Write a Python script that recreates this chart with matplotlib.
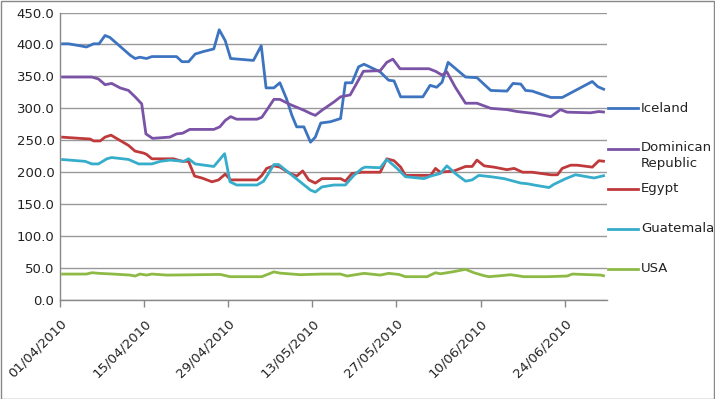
import matplotlib
matplotlib.use("Agg")
import matplotlib.pyplot as plt
from matplotlib.lines import Line2D
from matplotlib.patches import Rectangle
import pandas as pd

# ---- data (x = days after 01/04/2010) ----
start_date = "2010-04-01"
end_date = "2010-07-01"
tick_labels = ["01/04/2010", "15/04/2010", "29/04/2010", "13/05/2010",
               "27/05/2010", "10/06/2010", "24/06/2010"]
y_ticks = [0, 50, 100, 150, 200, 250, 300, 350, 400, 450]

iceland_day = [0.2, 1.4, 3.3, 4.4, 5.6, 6.5, 7.5, 8.3, 10, 11.7, 12.5, 13.3, 14.4, 15.3, 19.4, 20.3,
               21.4, 22.5, 23.9, 25.6, 26.5, 27.5, 28.4, 32.2, 33.5, 34.3, 35.6, 36.6, 37.7, 38.6,
               39.4, 40.6, 41.7, 42.5, 43.4, 45, 46.7, 47.5, 48.6, 49.7, 50.6, 51.3, 53.3, 54.7,
               55.6, 56.7, 60.4, 61.6, 62.7, 63.6, 64.6, 67.5, 69.4, 71.7, 74.4, 75.4, 76.7, 77.5,
               78.6, 81.7, 83.6, 88.6, 89.5, 90.7]
iceland_val = [401, 401, 398, 396, 401, 401, 414, 411, 397, 383, 378, 380, 378, 381, 381, 373,
               373, 385, 389, 393, 423, 406, 378, 375, 398, 332, 332, 340, 315, 289,
               271, 271, 247, 255, 277, 279, 284, 340, 340, 365, 369, 366, 357, 344,
               343, 318, 318, 336, 333, 341, 372, 349, 348, 328, 327, 339, 338, 328,
               327, 317, 317, 342, 334, 329]

dr_day = [0.2, 5.3, 6.4, 7.5, 8.6, 10, 11.4, 12.5, 13.6, 14.3, 15.4, 18.3, 19.4, 20.4, 21.6, 25.6,
          26.6, 27.5, 28.4, 29.4, 32.8, 33.6, 34.4, 35.6, 36.6, 38.3, 40.6, 41.7, 42.5, 43.6,
          45.6, 46.7, 48.3, 50.5, 53.3, 54.4, 55.4, 56.6, 61.4, 62.5, 63.6, 64.4, 65.8, 67.5,
          69.4, 71.7, 74.4, 76.1, 78.9, 81.7, 83.3, 84.4, 88.3, 89.7, 90.7]
dr_val = [349, 349, 346, 337, 339, 332, 328, 318, 307, 260, 253, 255, 260, 261, 267, 267,
          271, 281, 287, 283, 283, 286, 297, 314, 314, 306, 297, 292, 289, 297,
          310, 318, 321, 358, 359, 372, 377, 362, 362, 358, 352, 357, 333, 308,
          308, 300, 298, 295, 292, 287, 298, 294, 293, 295, 294]

egypt_day = [0.2, 3.3, 5, 5.6, 6.7, 7.5, 8.5, 9.4, 11.4, 12.5, 13.9, 14.4, 15.3, 18.9, 20.4, 21.4,
             22.4, 23.6, 25.3, 26.4, 27.5, 28.4, 32.8, 33.6, 34.4, 35.6, 36.6, 38.3, 39.4, 40.4,
             41.4, 42.5, 43.6, 46.7, 47.5, 48.6, 50.3, 53.3, 54.4, 55.6, 56.7, 57.5, 61.7, 62.5,
             63.3, 65.6, 67.5, 68.6, 69.4, 70.6, 72.2, 74.4, 75.6, 77, 78.6, 81.7, 82.8, 83.6,
             85, 86.1, 88.6, 89.7, 90.7]
egypt_val = [255, 253, 252, 249, 249, 255, 258, 253, 242, 233, 230, 228, 221, 221, 217, 217,
             194, 191, 185, 188, 197, 188, 188, 195, 206, 210, 208, 198, 194, 202,
             188, 183, 190, 190, 186, 198, 200, 200, 221, 218, 208, 195, 195, 206,
             200, 202, 209, 209, 219, 210, 208, 204, 206, 200, 200, 196, 196, 206,
             211, 211, 208, 218, 217]

guat_day = [0.2, 4.2, 5.3, 6.4, 7.8, 8.6, 11.4, 13.1, 15.3, 16.7, 18.3, 20.6, 21.4, 22.5, 25.6,
            27.4, 28.3, 29.4, 32.8, 33.9, 34.7, 35.6, 36.4, 41.7, 42.5, 43.6, 45.6, 47.5, 48.9,
            50.3, 50.8, 53.3, 54.4, 56.1, 57.5, 60.6, 61.7, 63.3, 64.4, 65.8, 67.5, 68.6, 69.7,
            71.7, 73.9, 76.7, 77.8, 78.9, 81.4, 82.2, 84.2, 85.8, 88.9, 90.7]
guat_val = [220, 217, 213, 213, 221, 223, 220, 213, 213, 217, 219, 217, 221, 213, 209,
            229, 185, 180, 180, 186, 198, 212, 212, 172, 169, 177, 180, 180, 195,
            206, 208, 207, 220, 206, 193, 190, 194, 198, 210, 198, 186, 188, 195,
            193, 190, 183, 182, 180, 176, 181, 190, 196, 191, 195]

usa_day = [0.2, 4.4, 5.3, 6.7, 8.9, 11.7, 12.5, 13.3, 14.4, 15.3, 17.8, 26.7, 28.3, 33.6, 35.6,
           36.7, 40, 43.6, 46.7, 47.8, 50.6, 53.3, 54.7, 56.4, 57.5, 61.1, 62.5, 63.3, 65.3,
           67.5, 68.9, 70.6, 71.4, 73.3, 75, 77.2, 81.1, 84.4, 85.3, 90, 90.7]
usa_val = [40.6, 40.6, 42.7, 41.6, 40.6, 39, 37.5, 40.6, 39, 40.6, 39, 40, 36.5, 36.5, 44,
           42, 39.6, 40.6, 40.6, 37.5, 41.7, 39, 41.7, 40, 36.5, 36.5, 42.7, 41, 44,
           48, 42.7, 38, 36.5, 38, 39.6, 36.5, 36.5, 37.5, 40.6, 39, 37.5]

series_names = ["Iceland", "Dominican\nRepublic", "Egypt", "Guatemala", "USA"]
series_days = [iceland_day, dr_day, egypt_day, guat_day, usa_day]
series_vals = [iceland_val, dr_val, egypt_val, guat_val, usa_val]
colors = ["#3D74C0", "#7A52A6", "#C0393B", "#36ADCA", "#8DBA45"]

# ---- figure ----
W, H = 715, 399
fig = plt.figure(figsize=(W / 100, H / 100), dpi=100)
ax = fig.add_axes([60 / W, 1 - 300 / H, (606.7 - 60) / W, (300 - 12.5) / H])

for d, v, c in zip(series_days, series_vals, colors):
    ax.plot(d, v, color=c, lw=2.0, solid_joinstyle="round", solid_capstyle="butt")

t0 = pd.Timestamp(start_date)
tick_pos = [(pd.to_datetime(t, format="%d/%m/%Y") - t0).days for t in tick_labels]
ax.set_xlim(0, (pd.Timestamp(end_date) - t0).days)
ax.set_ylim(0, 450)
ax.set_xticks(tick_pos)
ax.set_xticklabels(tick_labels, rotation=45, ha="right", rotation_mode="anchor",
                   fontsize=9.5, family="DejaVu Sans", color="#222222")
ax.set_yticks(y_ticks)
ax.set_yticklabels([f"{v:.1f}" for v in y_ticks], fontsize=9.5, family="DejaVu Sans",
                   color="#222222")
ax.tick_params(axis="y", length=0, pad=4)
ax.tick_params(axis="x", length=5, width=1, color="#888888", pad=7, direction="out")
ax.grid(axis="y", color="#999999", lw=1)
ax.set_axisbelow(True)
for s in ["top", "right"]:
    ax.spines[s].set_visible(False)
for s in ["left", "bottom"]:
    ax.spines[s].set_color("#888888")
    ax.spines[s].set_linewidth(1)

# ---- legend (right side) ----
leg_y = [108, 149, 189, 229, 269]
for name, c, y in zip(series_names, colors, leg_y):
    fy = 1 - y / H
    fig.add_artist(Line2D([607.5 / W, 637.5 / W], [fy, fy], color=c, lw=2.0,
                          transform=fig.transFigure))
    if "\n" in name:
        fig.text(641 / W, 1 - (y - 8) / H, name, fontsize=9.5, family="DejaVu Sans",
                 color="#222222", va="top", linespacing=1.35)
    else:
        fig.text(641 / W, fy, name, fontsize=9.5, family="DejaVu Sans",
                 color="#222222", va="center")

fig.add_artist(Rectangle((0.5 / W, 0.5 / H), (W - 1.5) / W, (H - 1.5) / H,
                         transform=fig.transFigure, fill=False, ec="#888888", lw=1))

fig.savefig("out.png", dpi=100)
